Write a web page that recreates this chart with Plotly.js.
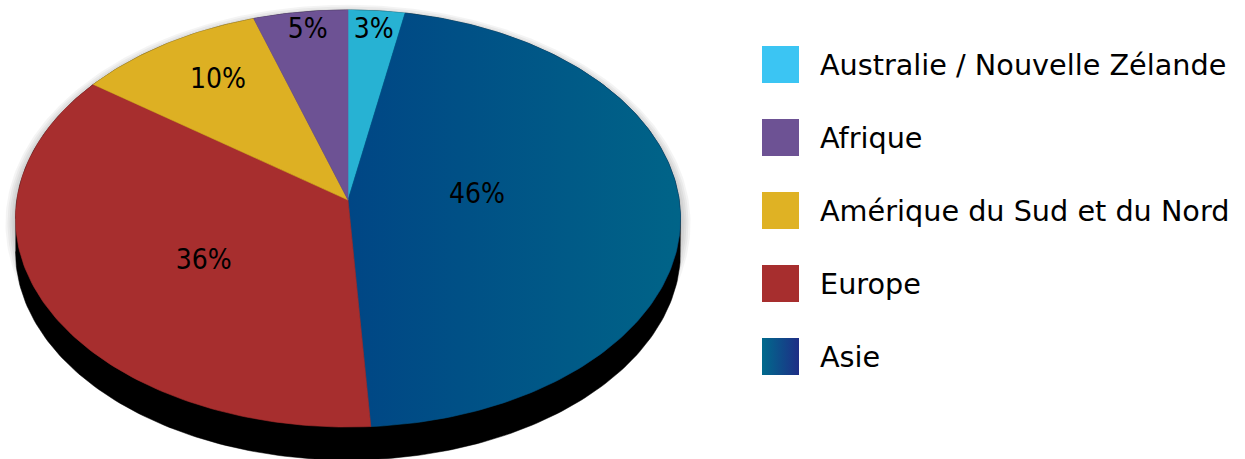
<!DOCTYPE html>
<html><head><meta charset="utf-8">
<script src="https://cdn.plot.ly/plotly-3.0.1.min.js"></script>
<style>html,body{margin:0;padding:0;background:#fff;overflow:hidden}</style>
</head><body><div id="chart" style="width:1245px;height:459px"></div>
<script>
// ---- data (clockwise from 12 o'clock) ----
const sliceNames  = ['Australie / Nouvelle Zélande', 'Asie', 'Europe', 'Amérique du Sud et du Nord', 'Afrique'];
const sliceValues = [3, 46, 36, 10, 5];
// legend order as shown
const legendNames = ['Australie / Nouvelle Zélande', 'Afrique', 'Amérique du Sud et du Nord', 'Europe', 'Asie'];

// ---- styles ----
const sliceColors = {
  'Australie / Nouvelle Zélande': '#27B2D3',
  'Asie': '#004C8A',
  'Europe': '#A72E2E',
  'Amérique du Sud et du Nord': '#DDB023',
  'Afrique': '#6D5294'
};
const legendColors = {
  'Australie / Nouvelle Zélande': '#3BC5F3',
  'Afrique': '#6D5294',
  'Amérique du Sud et du Nord': '#DFB224',
  'Europe': '#A72E2E',
  'Asie': '#006A8C'
};
// label placement inside each slice: fraction of the slice's angular span, and radius fraction
const labelFrac   = [0.50, 0.457, 0.459, 0.553, 0.533];
const labelRadius = [0.893, 0.391, 0.513, 0.738, 0.896];

// ---- 3D perspective geometry (pixel space) ----
const CX = 348, CY = 200, RX = 331.2, RY = 206.9, K = 0.0887, DEPTH = 33;
function proj(phi, r, ex, dy) {
  ex = ex || 0; dy = dy || 0;
  const u = r * Math.sin(phi), v = -r * Math.cos(phi);
  const w = 1 - K * v;
  return [CX + (RX + ex) * u / w, CY + (RY + ex) * v / w + dy];
}
function arc(a0, a1, r, ex, dy) {
  const n = Math.max(4, Math.ceil((a1 - a0) / (Math.PI / 180)));
  const xs = [], ys = [];
  for (let i = 0; i <= n; i++) {
    const p = proj(a0 + (a1 - a0) * i / n, r, ex, dy);
    xs.push(p[0]); ys.push(p[1]);
  }
  return [xs, ys];
}

const traces = [];
const total = sliceValues.reduce((a, b) => a + b, 0);

// soft glow
for (let e = 10; e >= 2; e -= 2) {
  const [xs, ys] = arc(0, 2 * Math.PI, 1, e, 4);
  traces.push({x: xs, y: ys, type: 'scatter', mode: 'lines', fill: 'toself',
    fillcolor: 'rgba(0,0,0,0.045)', line: {width: 0}, hoverinfo: 'skip', showlegend: false});
}

// black extruded body
{
  const aR = Math.acos(-K), aL = 2 * Math.PI - Math.acos(-K);
  const top = arc(aL, 2 * Math.PI + aR, 1, 0, 0);
  const bot = arc(aR, aL, 1, 0, DEPTH);
  traces.push({x: top[0].concat(bot[0]), y: top[1].concat(bot[1]), type: 'scatter', mode: 'lines',
    fill: 'toself', fillcolor: '#000000', line: {width: 0.5, color: '#000'}, hoverinfo: 'skip', showlegend: false});
}

// slices
let cum = 0;
const lx = [], ly = [], lt = [];
sliceValues.forEach((val, i) => {
  const a0 = cum / total * 2 * Math.PI;
  cum += val;
  const a1 = cum / total * 2 * Math.PI;
  const [ax, ay] = arc(a0, a1, 1, 0, 0);
  const xs = [CX].concat(ax, [CX]);
  const ys = [CY].concat(ay, [CY]);
  const name = sliceNames[i];
  const t = {x: xs, y: ys, type: 'scatter', mode: 'lines', fill: 'toself',
    fillcolor: sliceColors[name], line: {width: 0.6, color: sliceColors[name]},
    hoverinfo: 'skip', showlegend: false};
  if (name === 'Asie') {
    t.fillgradient = {type: 'horizontal', colorscale: [[0, '#004685'], [1, '#006488']]};
    t.line.color = '#00558A';
  }
  traces.push(t);
  const pl = proj(a0 + (a1 - a0) * labelFrac[i], labelRadius[i], 0, 1);
  lx.push(pl[0]); ly.push(pl[1]);
  lt.push(Math.round(val / total * 100) + '%');
});

traces.push({x: lx, y: ly, text: lt, type: 'scatter', mode: 'text', textposition: 'middle center',
  textfont: {family: 'DejaVu Sans Condensed, DejaVu Sans, sans-serif', size: 28, color: '#000'},
  hoverinfo: 'skip', showlegend: false});

// legend
const LEG_X = 780.5, LEG_Y0 = 64.5, LEG_DY = 73, LEG_TX = 820, LEG_TDY = 3;
const legY = legendNames.map((_, i) => LEG_Y0 + i * LEG_DY);
traces.push({x: legendNames.map(() => LEG_X), y: legY, type: 'scatter', mode: 'markers',
  marker: {symbol: 'square', size: 37, color: legendNames.map(n => legendColors[n]), line: {width: 0},
    gradient: {type: legendNames.map(n => n === 'Asie' ? 'horizontal' : 'none'),
               color: legendNames.map(n => n === 'Asie' ? '#1E2E86' : legendColors[n])}},
  hoverinfo: 'skip', showlegend: false});
traces.push({x: legendNames.map(() => LEG_TX), y: legY.map(y => y + LEG_TDY), text: legendNames, type: 'scatter', mode: 'text',
  textposition: 'middle right',
  textfont: {family: 'DejaVu Sans, sans-serif', size: 28.7, color: '#000'},
  hoverinfo: 'skip', showlegend: false});

const layout = {
  width: 1245, height: 459,
  margin: {l: 0, r: 0, t: 0, b: 0},
  paper_bgcolor: '#fff', plot_bgcolor: '#fff',
  showlegend: false, hovermode: false,
  xaxis: {range: [0, 1245], visible: false, fixedrange: true},
  yaxis: {range: [459, 0], visible: false, fixedrange: true}
};
Plotly.newPlot('chart', traces, layout, {displayModeBar: false, staticPlot: true});
</script>
</body></html>
